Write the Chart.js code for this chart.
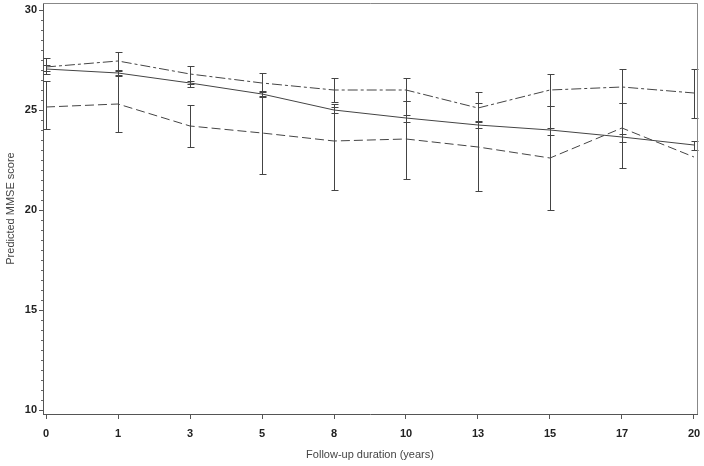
<!DOCTYPE html>
<html>
<head>
<meta charset="utf-8">
<script src="https://cdn.jsdelivr.net/npm/chart.js@4.4.1/dist/chart.umd.min.js"></script>
<style>
  html, body { margin: 0; padding: 0; background: #fff; }
  #wrap { width: 704px; height: 466px; position: relative; }
</style>
</head>
<body>
<div id="wrap"><canvas id="chart"></canvas></div>
<script>
const years = ['0', '1', '3', '5', '8', '10', '13', '15', '17', '20'];

// solid line
const solidMean = [27.05, 26.85, 26.35, 25.8, 25.0, 24.6, 24.25, 24.0, 23.65, 23.25];
const solidLow  = [26.95, 26.75, 26.15, 25.65, 24.85, 24.4, 24.1, 23.75, 23.4, 23.0];
const solidHigh = [27.25, 26.95, 26.45, 25.95, 25.15, 24.75, 24.45, 24.1, 23.8, 23.45];

// dash-dot line
const dashDotMean = [27.15, 27.45, 26.8, 26.35, 26.0, 26.0, 25.1, 26.0, 26.15, 25.85];
const dashDotLow  = [26.8, 27.0, 26.3, 25.9, 25.4, 25.45, 24.4, 25.2, 25.35, 24.6];
const dashDotHigh = [27.6, 27.9, 27.2, 26.85, 26.6, 26.6, 25.9, 26.8, 27.05, 27.05];

// dashed line
const dashedMean = [25.15, 25.3, 24.2, 23.85, 23.45, 23.55, 23.15, 22.6, 24.1, 22.65];
const dashedLow  = [24.05, 23.9, 23.15, 21.8, 21.0, 21.55, 20.95, 20.0, 22.1, null];
const dashedHigh = [26.45, 26.7, 25.25, 25.7, 25.3, 25.45, 25.35, 25.2, 25.35, null];

const yTicks = [10, 15, 20, 25, 30];

const toPts = arr => arr.map((v, i) => ({ x: i, y: v }));

const series = [
  { mean: solidMean, low: solidLow, high: solidHigh, dash: [] },
  { mean: dashDotMean, low: dashDotLow, high: dashDotHigh, dash: [10, 3, 3, 3] },
  { mean: dashedMean, low: dashedLow, high: dashedHigh, dash: [9, 4] }
];

// error bars, minor ticks and frame
const extras = {
  id: 'extras',
  afterDatasetsDraw(chart) {
    const { ctx, chartArea: a, scales: { x, y } } = chart;
    ctx.save();
    ctx.strokeStyle = '#444';
    ctx.lineWidth = 1;
    series.forEach(s => {
      s.mean.forEach((m, i) => {
        if (s.low[i] == null || s.high[i] == null) return;
        const px = Math.round(x.getPixelForValue(i)) + 0.5;
        const y1 = Math.round(y.getPixelForValue(s.high[i])) + 0.5;
        const y2 = Math.round(y.getPixelForValue(s.low[i])) + 0.5;
        ctx.beginPath();
        ctx.moveTo(px, y1); ctx.lineTo(px, y2);
        ctx.moveTo(px - 3, y1); ctx.lineTo(px + 4, y1);
        ctx.moveTo(px - 3, y2); ctx.lineTo(px + 4, y2);
        ctx.stroke();
      });
    });
    // minor ticks on y
    ctx.strokeStyle = '#666';
    for (let v = 10; v <= 30; v += 0.5) {
      if (v % 5 === 0) continue;
      const py = Math.round(y.getPixelForValue(v)) + 0.5;
      ctx.beginPath();
      ctx.moveTo(a.left - 2, py); ctx.lineTo(a.left, py);
      ctx.stroke();
    }
    // top and right frame
    ctx.strokeStyle = '#888';
    ctx.beginPath();
    ctx.moveTo(a.left, Math.round(a.top) + 0.5);
    ctx.lineTo(Math.round(a.right) + 0.5, Math.round(a.top) + 0.5);
    ctx.lineTo(Math.round(a.right) + 0.5, a.bottom);
    ctx.stroke();
    ctx.restore();
  }
};

new Chart(document.getElementById('chart'), {
  type: 'line',
  data: {
    datasets: series.map(s => ({
      data: toPts(s.mean),
      borderColor: '#444',
      borderWidth: 1,
      borderDash: s.dash,
      pointRadius: 0,
      fill: false,
      tension: 0
    }))
  },
  options: {
    responsive: true,
    maintainAspectRatio: false,
    animation: false,
    layout: { padding: { top: 3, right: 7, left: 0, bottom: 0 } },
    plugins: { legend: { display: false }, tooltip: { enabled: false } },
    scales: {
      x: {
        type: 'linear',
        min: -0.0417,
        max: 9.0417,
        afterBuildTicks: s => { s.ticks = years.map((_, i) => ({ value: i })); },
        afterFit: s => { s.height = 52; s.paddingLeft = 0; s.paddingRight = 0; },
        grid: { drawOnChartArea: false, tickLength: 5, color: '#555' },
        border: { color: '#555' },
        ticks: {
          callback: v => years[v],
          color: '#222',
          padding: 8,
          maxRotation: 0,
          autoSkip: false,
          font: { family: 'Liberation Sans', size: 11, weight: 'bold' }
        },
        title: {
          display: true,
          text: 'Follow-up duration (years)',
          color: '#444',
          padding: { top: 8 },
          font: { family: 'Liberation Sans', size: 11 }
        }
      },
      y: {
        min: 9.8,
        max: 30.35,
        afterBuildTicks: s => { s.ticks = yTicks.map(v => ({ value: v })); },
        afterFit: s => { s.width = 43; s.paddingTop = 0; s.paddingBottom = 0; },
        grid: { drawOnChartArea: false, tickLength: 4, color: '#555' },
        border: { color: '#555' },
        ticks: {
          color: '#222',
          padding: 2,
          font: { family: 'Liberation Sans', size: 11, weight: 'bold' }
        },
        title: {
          display: true,
          text: 'Predicted MMSE score',
          color: '#444',
          padding: { bottom: 9 },
          font: { family: 'Liberation Sans', size: 11 }
        }
      }
    }
  },
  plugins: [extras]
});
</script>
</body>
</html>
